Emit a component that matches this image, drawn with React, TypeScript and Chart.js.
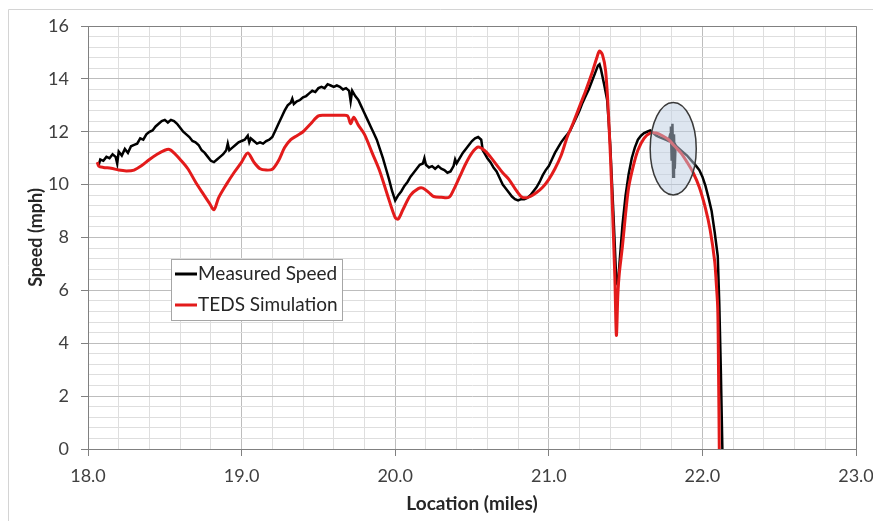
import React, { useEffect, useRef } from "react";
import { Chart, registerables } from "chart.js";

Chart.register(...registerables);

// ---------- data ----------
const seriesLabels = ["Measured Speed", "TEDS Simulation"];
const xAxisTitle = "Location (miles)";
const yAxisTitle = "Speed (mph)";
const xRange = [18, 23];
const yRange = [0, 16];

const measuredX = [
  18.07, 18.08, 18.1, 18.12, 18.14, 18.16, 18.18, 18.19, 18.2, 18.22, 18.24, 18.26, 18.28, 18.3,
  18.32, 18.34, 18.36, 18.38, 18.4, 18.42, 18.44, 18.46, 18.48, 18.5, 18.52, 18.54, 18.56, 18.58,
  18.6, 18.62, 18.64, 18.66, 18.68, 18.7, 18.72, 18.74, 18.76, 18.78, 18.8, 18.82, 18.84, 18.86,
  18.88, 18.9, 18.91, 18.92, 18.94, 18.96, 18.98, 19.0, 19.02, 19.04, 19.05, 19.06, 19.08, 19.1,
  19.12, 19.14, 19.16, 19.18, 19.2, 19.22, 19.24, 19.26, 19.28, 19.3, 19.32, 19.33, 19.34, 19.36,
  19.38, 19.4, 19.42, 19.44, 19.46, 19.48, 19.5, 19.52, 19.54, 19.56, 19.58, 19.6, 19.62, 19.64,
  19.66, 19.68, 19.7, 19.71, 19.72, 19.74, 19.76, 19.78, 19.8, 19.82, 19.84, 19.86, 19.88, 19.9,
  19.92, 19.94, 19.96, 19.98, 20.0, 20.02, 20.04, 20.06, 20.08, 20.1, 20.12, 20.14, 20.16, 20.18,
  20.19, 20.2, 20.22, 20.24, 20.26, 20.28, 20.3, 20.32, 20.34, 20.36, 20.38, 20.39, 20.4, 20.42,
  20.44, 20.46, 20.48, 20.5, 20.52, 20.54, 20.56, 20.57, 20.58, 20.6, 20.62, 20.64, 20.66, 20.68,
  20.7, 20.72, 20.74, 20.76, 20.78, 20.8, 20.82, 20.84, 20.86, 20.88, 20.9, 20.92, 20.94, 20.96,
  20.98, 21.0, 21.02, 21.04, 21.06, 21.08, 21.1, 21.12, 21.14, 21.16, 21.18, 21.2, 21.22, 21.24,
  21.26, 21.28, 21.3, 21.32, 21.33, 21.34, 21.36, 21.38, 21.4, 21.42, 21.44, 21.45, 21.46, 21.48,
  21.5, 21.52, 21.54, 21.56, 21.58, 21.6, 21.62, 21.64, 21.66, 21.68, 21.7, 21.72, 21.74, 21.76,
  21.78, 21.79, 21.795, 21.8, 21.805, 21.81, 21.815, 21.82, 21.825, 21.83, 21.85, 21.87, 21.9,
  21.93, 21.96, 21.98, 22.0, 22.02, 22.04, 22.06, 22.08, 22.1, 22.11, 22.12, 22.13,
];
const measuredY = [
  10.75, 10.95, 10.9, 11.05, 11.0, 11.15, 11.05, 10.8, 11.25, 11.1, 11.35, 11.2, 11.45, 11.5,
  11.55, 11.75, 11.7, 11.9, 12.0, 12.05, 12.2, 12.3, 12.4, 12.45, 12.35, 12.45, 12.4, 12.3,
  12.15, 12.0, 11.9, 11.8, 11.65, 11.6, 11.5, 11.3, 11.2, 11.05, 10.9, 10.85, 10.95, 11.05,
  11.15, 11.3, 11.55, 11.3, 11.4, 11.5, 11.6, 11.65, 11.7, 11.85, 11.6, 11.75, 11.65, 11.55,
  11.6, 11.55, 11.65, 11.7, 11.8, 12.05, 12.3, 12.55, 12.8, 13.0, 13.1, 13.25, 13.05, 13.15,
  13.2, 13.3, 13.35, 13.45, 13.55, 13.5, 13.65, 13.7, 13.65, 13.8, 13.75, 13.7, 13.75, 13.7,
  13.6, 13.65, 13.55, 13.15, 13.55, 13.35, 13.2, 12.95, 12.7, 12.45, 12.2, 11.95, 11.7, 11.35,
  11.0, 10.6, 10.2, 9.75, 9.4, 9.6, 9.75, 9.95, 10.1, 10.3, 10.45, 10.6, 10.75, 10.8,
  11.0, 10.75, 10.65, 10.7, 10.6, 10.7, 10.6, 10.55, 10.45, 10.5, 10.7, 10.95, 10.8, 11.0,
  11.2, 11.35, 11.5, 11.65, 11.75, 11.8, 11.7, 11.3, 11.2, 11.0, 10.85, 10.65, 10.5, 10.25,
  10.0, 9.85, 9.7, 9.55, 9.45, 9.4, 9.45, 9.45, 9.5, 9.6, 9.75, 9.9, 10.1, 10.35,
  10.55, 10.7, 10.95, 11.2, 11.4, 11.6, 11.75, 11.9, 12.05, 12.3, 12.55, 12.8, 13.1, 13.35,
  13.6, 13.9, 14.2, 14.5, 14.55, 14.35, 13.8, 13.2, 11.5, 9.0, 6.3, 6.2, 7.0, 8.5,
  9.6, 10.4, 11.0, 11.4, 11.7, 11.85, 11.95, 12.0, 12.05, 11.95, 11.85, 11.8, 11.75, 11.7,
  11.65, 11.9, 12.2, 10.9, 12.3, 10.3, 11.9, 10.6, 11.5, 11.45, 11.35, 11.25, 11.1,
  10.9, 10.7, 10.55, 10.3, 9.95, 9.5, 9.0, 8.2, 7.3, 5.5, 3.0, 0,
];

const tedsX = [
  18.06, 18.07, 18.1, 18.15, 18.2, 18.25, 18.3, 18.35, 18.4, 18.45, 18.5, 18.53, 18.56, 18.6,
  18.65, 18.7, 18.75, 18.79, 18.82, 18.85, 18.9, 18.95, 19.0, 19.04, 19.08, 19.12, 19.16, 19.2,
  19.24, 19.28, 19.32, 19.36, 19.4, 19.45, 19.5, 19.55, 19.6, 19.65, 19.69, 19.71, 19.73, 19.76,
  19.8, 19.85, 19.9, 19.95, 20.0, 20.02, 20.05, 20.1, 20.15, 20.18, 20.22, 20.25, 20.3, 20.35,
  20.38, 20.42, 20.46, 20.5, 20.54, 20.58, 20.62, 20.66, 20.7, 20.74, 20.78, 20.82, 20.85, 20.88,
  20.92, 20.96, 21.0, 21.04, 21.08, 21.12, 21.16, 21.2, 21.24, 21.28, 21.31, 21.33, 21.35, 21.37,
  21.39, 21.41, 21.43, 21.44, 21.45, 21.46, 21.48, 21.5, 21.52, 21.55, 21.58, 21.62, 21.66, 21.7,
  21.74, 21.78, 21.82, 21.86, 21.9, 21.94, 21.98, 22.02, 22.05, 22.08, 22.09, 22.1, 22.105, 22.11,
];
const tedsY = [
  10.85, 10.7, 10.65, 10.62, 10.55, 10.52, 10.55, 10.72, 10.95, 11.15, 11.3, 11.33, 11.2, 10.95,
  10.6, 10.1, 9.65, 9.3, 9.05, 9.5, 10.0, 10.45, 10.85, 11.2, 10.85, 10.6, 10.55, 10.58,
  10.9, 11.4, 11.7, 11.85, 12.0, 12.3, 12.6, 12.62, 12.62, 12.62, 12.6, 12.3, 12.55, 12.25,
  11.9, 11.2, 10.5, 9.6, 8.75, 8.7, 9.05, 9.6, 9.85, 9.87, 9.7, 9.55, 9.52, 9.52,
  9.8, 10.3, 10.8, 11.2, 11.42, 11.3, 11.05, 10.75, 10.45, 10.2, 9.85, 9.55, 9.5, 9.55,
  9.7, 9.9, 10.2, 10.6, 11.1, 11.8, 12.35, 12.95, 13.55, 14.2, 14.75, 15.05, 14.9, 14.3,
  12.5, 9.8, 6.5, 4.3, 5.9, 6.7, 7.7, 8.9, 9.9, 10.7, 11.3, 11.75, 11.95, 11.95,
  11.85, 11.7, 11.45, 11.2, 10.85, 10.45, 9.9, 9.1, 8.3, 7.1, 6.3, 5.3, 3.0, 0,
];

// highlighted region (data units): centre and half-extents
const highlightCenter = [21.81, 11.36];
const highlightHalf = [0.15, 1.75];

// ---------- styling ----------
const FONT = "Lato, 'Open Sans', 'Liberation Sans', sans-serif";
const colors = { measured: "#000000", teds: "#e31b1b" };

const isMultiple = (v: number, m: number) => Math.abs(v / m - Math.round(v / m)) < 1e-6;

const pagePlugin = {
  id: "pageFrame",
  beforeDraw(chart: any) {
    const { ctx, width, height } = chart;
    ctx.save();
    ctx.fillStyle = "#ffffff";
    ctx.fillRect(0, 0, width, height);
    ctx.strokeStyle = "#d4d4d4";
    ctx.lineWidth = 1;
    ctx.beginPath();
    ctx.moveTo(8.5, height);
    ctx.lineTo(8.5, 9.5);
    ctx.lineTo(width, 9.5);
    ctx.stroke();
    ctx.restore();
  },
  beforeDatasetsDraw(chart: any) {
    const { ctx, chartArea: a } = chart;
    ctx.save();
    ctx.strokeStyle = "#808080";
    ctx.lineWidth = 1;
    ctx.beginPath();
    ctx.moveTo(Math.round(a.left) + 0.5, Math.round(a.top) + 0.5);
    ctx.lineTo(Math.round(a.right) + 0.5, Math.round(a.top) + 0.5);
    ctx.lineTo(Math.round(a.right) + 0.5, Math.round(a.bottom) + 0.5);
    ctx.stroke();
    ctx.restore();
  },
};

const highlightPlugin = {
  id: "highlight",
  afterDatasetsDraw(chart: any) {
    const { ctx, scales } = chart;
    const xs = scales.x;
    const ys = scales.y;
    const cx = xs.getPixelForValue(highlightCenter[0]);
    const cy = ys.getPixelForValue(highlightCenter[1]);
    const rx = Math.abs(xs.getPixelForValue(highlightCenter[0] + highlightHalf[0]) - cx);
    const ry = Math.abs(ys.getPixelForValue(highlightCenter[1] + highlightHalf[1]) - cy);
    ctx.save();
    ctx.beginPath();
    ctx.ellipse(cx, cy, rx, ry, 0, 0, Math.PI * 2);
    ctx.fillStyle = "rgba(190, 205, 225, 0.5)";
    ctx.fill();
    ctx.strokeStyle = "#3a3a3a";
    ctx.lineWidth = 1.5;
    ctx.stroke();
    ctx.restore();
  },
};

const legendPlugin = {
  id: "insetLegend",
  afterDraw(chart: any) {
    const { ctx } = chart;
    const box = { x: 171, y: 259, w: 171, h: 61 };
    ctx.save();
    ctx.fillStyle = "#ffffff";
    ctx.fillRect(box.x, box.y, box.w, box.h);
    ctx.strokeStyle = "#a6a6a6";
    ctx.lineWidth = 1;
    ctx.strokeRect(box.x + 0.5, box.y + 0.5, box.w, box.h);
    ctx.font = `19px ${FONT}`;
    ctx.textBaseline = "middle";
    ctx.fillStyle = "#262626";
    chart.data.datasets.forEach((ds: any, i: number) => {
      const y = box.y + 15 + i * 31;
      ctx.strokeStyle = ds.borderColor;
      ctx.lineWidth = 3;
      ctx.beginPath();
      ctx.moveTo(box.x + 4, y);
      ctx.lineTo(box.x + 26, y);
      ctx.stroke();
      ctx.fillText(ds.label, box.x + 27, y);
    });
    ctx.restore();
  },
};

export default function App() {
  const ref = useRef<HTMLCanvasElement | null>(null);

  useEffect(() => {
    document.body.style.margin = "0";
    if (!ref.current) return;
    const chart = new Chart(ref.current, {
      type: "line",
      data: {
        datasets: [
          {
            label: seriesLabels[0],
            data: measuredX.map((x, i) => ({ x, y: measuredY[i] })),
            borderColor: colors.measured,
            borderWidth: 2.5,
            pointRadius: 0,
            tension: 0,
            order: 1,
          },
          {
            label: seriesLabels[1],
            data: tedsX.map((x, i) => ({ x, y: tedsY[i] })),
            borderColor: colors.teds,
            borderWidth: 3,
            pointRadius: 0,
            tension: 0.3,
            order: 0,
          },
        ],
      },
      options: {
        animation: false,
        responsive: true,
        maintainAspectRatio: false,
        layout: { padding: { left: 20, right: 17, top: 26, bottom: 6 } },
        plugins: { legend: { display: false }, tooltip: { enabled: false } },
        scales: {
          x: {
            type: "linear",
            min: xRange[0],
            max: xRange[1],
            afterFit: (s: any) => {
              s.height = 66;
              s.paddingRight = 0;
              s.paddingLeft = 0;
            },
            ticks: {
              stepSize: 0.2,
              autoSkip: false,
              maxRotation: 0,
              minRotation: 0,
              padding: 9,
              color: "#404040",
              font: { family: FONT, size: 18 },
              callback: (v: any) => (isMultiple(Number(v), 1) ? Number(v).toFixed(1) : ""),
            },
            grid: {
              color: (c: any) => (isMultiple(c.tick.value, 1) ? "#bdbdbd" : "#dedede"),
              tickColor: (c: any) => (isMultiple(c.tick.value, 1) ? "#808080" : "rgba(0,0,0,0)"),
              tickLength: 7,
              lineWidth: 1,
            },
            border: { color: "#808080", width: 1 },
            title: {
              display: true,
              text: xAxisTitle,
              color: "#262626",
              font: { family: FONT, size: 19, weight: "bold" },
              padding: { top: 0, bottom: 0 },
            },
          },
          y: {
            type: "linear",
            min: yRange[0],
            max: yRange[1],
            afterFit: (s: any) => {
              s.width = 68;
            },
            ticks: {
              stepSize: 0.4,
              autoSkip: false,
              padding: 12,
              color: "#404040",
              font: { family: FONT, size: 18 },
              callback: (v: any) => (isMultiple(Number(v), 2) ? String(Math.round(Number(v))) : ""),
            },
            grid: {
              color: (c: any) => (isMultiple(c.tick.value, 2) ? "#bdbdbd" : "#dedede"),
              tickColor: (c: any) => (isMultiple(c.tick.value, 2) ? "#808080" : "rgba(0,0,0,0)"),
              tickLength: 7,
              lineWidth: 1,
            },
            border: { color: "#808080", width: 1 },
            title: {
              display: true,
              text: yAxisTitle,
              color: "#262626",
              font: { family: FONT, size: 18, weight: "bold" },
              padding: { top: 5, bottom: 0 },
            },
          },
        },
      },
      plugins: [pagePlugin, highlightPlugin, legendPlugin],
    } as any);
    return () => chart.destroy();
  }, []);

  return (
    <div style={{ position: "absolute", left: 0, top: 0, width: 873, height: 521 }}>
      <canvas ref={ref} />
    </div>
  );
}
